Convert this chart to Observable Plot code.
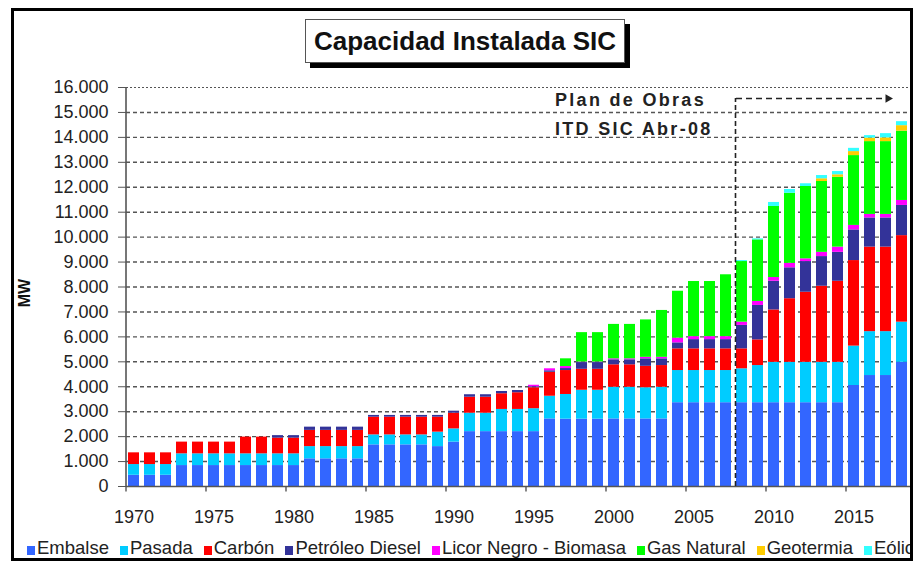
<!DOCTYPE html>
<html>
<head>
<meta charset="utf-8">
<script src="https://cdn.jsdelivr.net/npm/d3@7"></script>
<script src="https://cdn.jsdelivr.net/npm/@observablehq/plot@0.6"></script>
<style>
  html, body { margin: 0; padding: 0; background: #fff; }
  #wrap { position: relative; width: 917px; height: 561px; overflow: hidden; font-family: "Liberation Sans", Arial, sans-serif; color: #222; }
  #chart { position: absolute; left: 0; top: 0; }
  #frame { position: absolute; left: 11px; top: 8px; width: 902px; height: 553px; box-sizing: border-box; border: 3px solid #000; pointer-events: none; }
  #title { position: absolute; left: 305px; top: 19px; width: 320px; height: 44px; box-sizing: border-box; border: 1px solid #555; background: #fff; box-shadow: 5px 5px 0 #000; font-weight: bold; font-size: 26px; display: flex; align-items: center; justify-content: center; color: #111; }
  #ylabel { position: absolute; left: 25px; top: 293px; transform: translate(-50%, -50%) rotate(-90deg); font-weight: bold; font-size: 16px; color: #111; }
  #legend { position: absolute; left: 27px; top: 537px; width: 885px; overflow: hidden; display: flex; white-space: nowrap; font-size: 18.5px; line-height: 22px; color: #222; }
  #legend .item { display: flex; align-items: center; margin-right: 11px; flex: none; }
  #legend .sw { width: 8px; height: 9px; margin-right: 2px; margin-top: 5px; }
  g[font-weight="bold"] { letter-spacing: 2.3px; }
</style>
</head>
<body>
<div id="wrap">
  <div id="chart"></div>
  <div id="title">Capacidad Instalada SIC</div>
  <div id="ylabel">MW</div>
  <div id="legend"></div>
  <div id="frame"></div>
</div>
<script>
// ---- Data (MW) ----
const years = [1970,1971,1972,1973,1974,1975,1976,1977,1978,1979,
               1980,1981,1982,1983,1984,1985,1986,1987,1988,1989,
               1990,1991,1992,1993,1994,1995,1996,1997,1998,1999,
               2000,2001,2002,2003,2004,2005,2006,2007,2008,2009,
               2010,2011,2012,2013,2014,2015,2016,2017,2018];

const seriesNames = ["Embalse","Pasada","Carbón","Petróleo Diesel","Licor Negro - Biomasa","Gas Natural","Geotermia","Eólico"];
const seriesColors = ["#3366FF","#00CCFF","#FF0000","#333399","#FF00FF","#00FF00","#FFCC00","#33FFFF"];

const embalse = [450,450,450,840,840,840,840,840,840,840,
                 840,1110,1110,1110,1110,1670,1670,1670,1670,1600,
                 1780,2200,2200,2200,2200,2200,2710,2700,2700,2700,
                 2710,2710,2710,2710,3360,3360,3360,3360,3360,3360,
                 3360,3360,3360,3360,3360,4050,4450,4450,4980];
const pasada  = [430,430,430,470,470,470,470,470,470,470,
                 470,490,490,490,490,400,400,400,400,580,
                 530,740,740,890,890,920,910,990,1160,1160,
                 1270,1270,1250,1270,1290,1290,1290,1290,1360,1490,
                 1620,1620,1620,1620,1620,1580,1760,1760,1610];
const carbon  = [470,470,470,470,470,470,470,670,670,630,
                 630,650,650,650,650,710,710,710,710,600,
                 630,640,640,630,670,840,960,960,840,840,
                 900,900,860,870,870,870,870,870,800,1030,
                 2100,2550,2810,3050,3250,3430,3390,3390,3470];
const diesel  = [0,0,0,0,0,0,0,0,0,100,
                 100,130,130,130,130,70,70,70,70,70,
                 80,100,100,90,90,40,60,80,270,270,
                 200,200,300,270,240,370,370,370,940,1380,
                 1150,1240,1230,1190,1160,1230,1170,1170,1210];
const licor   = [0,0,0,0,0,0,0,0,0,0,
                 0,0,0,0,0,0,0,0,0,0,
                 0,0,0,0,0,60,80,80,20,20,
                 40,40,60,60,190,120,120,120,130,160,
                 150,180,110,170,210,180,140,140,200];
const gas     = [0,0,0,0,0,0,0,0,0,0,
                 0,0,0,0,0,0,0,0,0,0,
                 0,0,0,0,0,0,0,310,1180,1180,
                 1380,1380,1500,1880,1880,2210,2210,2480,2430,2470,
                 2850,2810,2900,2840,2800,2800,2920,2920,2780];
const geotermia = [0,0,0,0,0,0,0,0,0,0,
                   0,0,0,0,0,0,0,0,0,0,
                   0,0,0,0,0,0,0,0,0,0,
                   0,0,0,0,0,0,0,0,0,0,
                   0,0,0,110,100,160,140,150,220];
const eolico  = [0,0,0,0,0,0,0,0,0,0,
                 0,0,0,0,0,0,0,0,0,0,
                 0,0,0,0,0,0,0,0,0,0,
                 0,0,0,0,0,0,0,0,40,40,
                 160,150,110,130,130,130,100,170,160];

const yTicks = [0,1000,2000,3000,4000,5000,6000,7000,8000,9000,10000,11000,12000,13000,14000,15000,16000];
const xLabelYears = [1970,1975,1980,1985,1990,1995,2000,2005,2010,2015];
const planYear = 2008;
const planEndYear = 2017;
const annotations = [
  {text: "Plan de Obras", year: 1996, value: 15500},
  {text: "ITD SIC Abr-08", year: 1996, value: 14330}
];
const arrowLevel = 15560;

// ---- Build tidy table ----
const seriesValues = [embalse, pasada, carbon, diesel, licor, gas, geotermia, eolico];
const table = [];
years.forEach((yr, i) => {
  seriesNames.forEach((name, k) => {
    table.push({year: yr, type: name, value: seriesValues[k][i]});
  });
});

const loc = d3.formatLocale({decimal: ",", thousands: ".", grouping: [3], currency: ["$", ""]});
const fmt = loc.format(",d");

const chart = Plot.plot({
  width: 917,
  height: 561,
  marginLeft: 126,
  marginRight: 7,
  marginTop: 87,
  marginBottom: 75,
  style: {fontFamily: "'Liberation Sans', Arial, sans-serif", fontSize: "18px", color: "#222", background: "transparent", overflow: "visible"},
  x: {type: "band", domain: years, paddingInner: 0.3, paddingOuter: 0.15},
  y: {domain: [0, 16000]},
  color: {domain: seriesNames, range: seriesColors},
  marks: [
    Plot.ruleY(yTicks.filter(v => v > 0 && v < 16000), {stroke: "#555", strokeWidth: 1.4, strokeDasharray: "4,3"}),
    Plot.ruleY([16000], {stroke: "#555", strokeWidth: 1.2, strokeDasharray: "2,2"}),
    Plot.barY(table, {x: "year", y: "value", fill: "type"}),
    Plot.ruleY([0], {stroke: "#555", strokeWidth: 1.6}),
    Plot.ruleX([years[0]], {y1: 0, y2: 16000, dx: -8, stroke: "#555", strokeWidth: 1.6}),
    Plot.axisY({ticks: yTicks, tickFormat: fmt, tickSize: 8, tickPadding: 10, fontSize: 18, label: null, stroke: "#555"}),
    Plot.axisX({ticks: xLabelYears, tickFormat: d => String(d), tickSize: 0, tickPadding: 24, fontSize: 18, label: null}),
    Plot.ruleX(xLabelYears, {y1: 0, y2: -220, dx: -8, stroke: "#555", strokeWidth: 1.4}),
    // Plan de Obras marker
    Plot.ruleX([planYear], {y1: 0, y2: arrowLevel, dx: -6.5, stroke: "#222", strokeWidth: 1.6, strokeDasharray: "5,3"}),
    Plot.ruleY([arrowLevel], {x1: planYear, x2: planEndYear, insetRight: 4, stroke: "#222", strokeWidth: 1.6, strokeDasharray: "6,4"}),
    Plot.dot([arrowLevel], {x: () => planEndYear, y: d => d, symbol: "triangle", rotate: 90, r: 3.2, fill: "#222", stroke: null, dx: 2}),
    Plot.text(annotations, {x: "year", y: "value", text: "text", textAnchor: "start", dx: 5, fontSize: 18, fontWeight: "bold", fill: "#222"})
  ]
});
document.getElementById("chart").appendChild(chart);

// ---- Legend ----
const legend = document.getElementById("legend");
seriesNames.forEach((name, k) => {
  const item = document.createElement("div");
  item.className = "item";
  const sw = document.createElement("span");
  sw.className = "sw";
  sw.style.background = seriesColors[k];
  const lab = document.createElement("span");
  lab.textContent = name;
  item.appendChild(sw);
  item.appendChild(lab);
  legend.appendChild(item);
});
</script>
</body>
</html>
